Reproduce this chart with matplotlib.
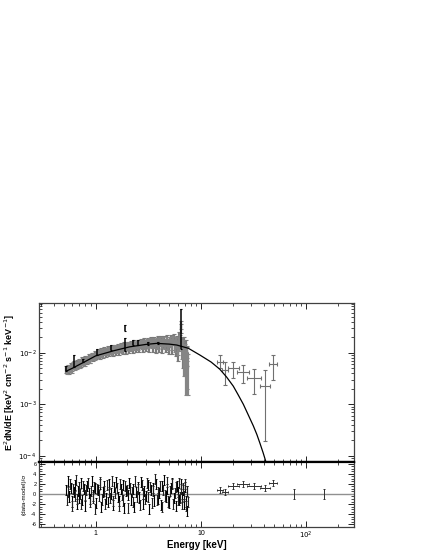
import matplotlib
matplotlib.use('Agg')
import matplotlib.pyplot as plt
from matplotlib.ticker import FixedLocator, FixedFormatter, LogLocator, NullFormatter, MultipleLocator

plt.rcParams['font.family'] = ['Liberation Sans', 'DejaVu Sans']

# soft X-ray spectrum (gray), keV and 1e-3 keV^2 cm^-2 s^-1 keV^-1
e_soft = [0.52, 0.54, 0.56, 0.58, 0.60, 0.62, 0.64, 0.66, 0.68, 0.70, 0.72, 0.74, 0.77, 0.80,
          0.83, 0.86, 0.89, 0.92, 0.95, 0.98, 1.01, 1.05, 1.09, 1.13, 1.17, 1.21, 1.25, 1.30,
          1.35, 1.40, 1.45, 1.50, 1.56, 1.62, 1.68, 1.74, 1.80, 1.87, 1.94, 2.01, 2.08, 2.16,
          2.24, 2.32, 2.41, 2.50, 2.59, 2.69, 2.79, 2.89, 3.00, 3.11, 3.23, 3.35, 3.47, 3.60,
          3.73, 3.87, 4.01, 4.16, 4.31, 4.47, 4.63, 4.80, 4.98, 5.16, 5.35, 5.55, 5.75, 5.96,
          6.10, 6.25, 6.40, 6.55, 6.70, 6.85, 7.00, 7.15, 7.30, 7.45]
f_soft = [4.8, 5.2, 4.5, 5.6, 5.3, 6.1, 5.6, 6.4, 5.9, 6.8, 6.3, 7.1, 6.6, 7.8,
          7.2, 8.3, 7.5, 8.9, 8.0, 9.6, 8.7, 10.1, 9.0, 10.6, 9.4, 11.2, 9.8, 11.6,
          10.2, 12.0, 10.5, 12.4, 10.8, 12.9, 11.1, 13.2, 11.5, 13.6, 11.8, 14.0, 12.1, 14.5,
          12.4, 15.0, 12.8, 15.3, 13.0, 15.8, 13.1, 16.2, 13.4, 16.6, 13.3, 17.0, 13.5, 17.4,
          13.2, 17.8, 13.6, 18.2, 13.0, 18.0, 13.8, 18.5, 12.8, 18.8, 13.2, 19.5, 12.5, 17.0,
          11.0, 21.0, 30.0, 16.0, 9.0, 15.5, 7.0, 13.0, 4.5, 9.5]
err_soft = [0.7, 0.7, 0.7, 0.8, 0.8, 0.8, 0.8, 0.9, 0.9, 0.9, 0.9, 1.0, 1.0, 1.0,
            1.1, 1.1, 1.1, 1.2, 1.2, 1.3, 1.3, 1.4, 1.4, 1.5, 1.5, 1.6, 1.6, 1.7,
            1.7, 1.8, 1.8, 1.9, 1.9, 2.0, 2.0, 2.1, 2.1, 2.2, 2.2, 2.3, 2.3, 2.4,
            2.4, 2.5, 2.5, 2.6, 2.6, 2.7, 2.7, 2.8, 2.8, 2.9, 2.9, 3.0, 3.0, 3.1,
            3.1, 3.2, 3.2, 3.3, 3.3, 3.4, 3.4, 3.5, 3.5, 3.6, 3.6, 3.8, 3.8, 4.0,
            4.0, 4.5, 6.0, 4.5, 4.0, 4.5, 3.5, 4.5, 2.5, 4.0]
res_soft = [0.8, 2.5, -0.5, 1.2, -1.5, 0.3, 1.8, -2.0, 0.6, -0.8, 2.2, -1.2, 0.9, -2.4,
            1.5, 0.2, -1.0, 2.6, -0.3, 1.1, -1.8, 0.7, 2.0, -2.6, 0.4, 1.6, -0.9, -1.6,
            1.9, 0.1, -2.2, 1.3, 2.4, -0.6, -1.4, 0.9, 1.7, -2.8, 0.5, -0.2, 2.1, -1.1,
            1.0, -2.5, 0.3, 1.4, -0.7, 2.3, -1.9, 0.6, -0.4, 1.8, -3.0, 0.8, 1.2, -1.3,
            2.0, -0.9, 0.2, -2.1, 1.5, 2.7, -0.5, 0.9, -1.7, 1.1, 2.2, -0.8, -2.3, 1.6,
            0.4, -1.2, 1.9, -0.6, 0.7, -2.0, 1.3, -1.5, -3.4, 0.5]

# interleaved second group of soft channels
e_soft2 = [0.53, 0.55, 0.57, 0.59, 0.61, 0.63, 0.65, 0.67, 0.69, 0.71, 0.73, 0.755, 0.785, 0.815,
           0.845, 0.875, 0.905, 0.935, 0.965, 0.995, 1.03, 1.07, 1.11, 1.15, 1.19, 1.23, 1.275, 1.325,
           1.375, 1.425, 1.475, 1.53, 1.59, 1.65, 1.71, 1.77, 1.835, 1.905, 1.975, 2.045, 2.12, 2.20,
           2.28, 2.365, 2.455, 2.545, 2.64, 2.74, 2.84, 2.945, 3.055, 3.17, 3.29, 3.41, 3.535, 3.665,
           3.80, 3.94, 4.085, 4.235, 4.39, 4.55, 4.715, 4.89, 5.07, 5.255, 5.45, 5.65, 5.855, 6.03,
           6.175, 6.325, 6.475, 6.625, 6.775, 6.925, 7.075, 7.225, 7.375, 7.52]
f_soft2 = [4.6, 4.9, 5.0, 4.8, 5.7, 5.4, 5.9, 5.7, 6.2, 6.0, 6.7, 6.9, 6.5, 7.4,
           7.7, 7.4, 8.2, 8.6, 8.9, 8.4, 9.3, 9.7, 10.2, 9.6, 10.4, 10.8, 10.5, 11.1,
           11.4, 11.0, 11.9, 12.2, 11.7, 12.3, 12.6, 12.1, 13.0, 12.8, 13.4, 13.7, 13.2, 13.9,
           14.3, 13.8, 14.6, 14.1, 14.9, 14.4, 15.2, 14.8, 15.6, 15.0, 16.0, 15.3, 16.2, 15.5,
           16.4, 15.1, 16.6, 15.4, 16.9, 15.0, 17.2, 14.6, 16.5, 15.1, 17.5, 14.2, 16.0, 13.0,
           15.0, 18.0, 35.0, 12.0, 14.0, 8.0, 11.0, 6.0, 10.5, 5.5]
res_soft2 = [-1.2, 0.4, 1.9, -2.3, 0.9, -0.4, 2.8, -1.0, 1.3, 0.0, -1.9, 1.6, -0.2, 0.8,
             2.1, -1.5, 0.5, -0.7, 1.4, -2.9, 1.0, -0.3, 2.3, -1.1, 0.6, -2.0, 1.8, 0.3,
             -0.8, 2.5, -1.4, 0.2, 1.1, -2.4, 2.0, -0.1, -1.3, 1.5, 0.7, -2.7, 1.2, 0.4,
             -1.6, 2.6, -0.5, 0.9, -2.2, 1.7, 0.1, -1.0, 2.2, -0.6, 1.3, -1.8, 0.6, 2.9,
             -1.2, 0.3, 1.6, -2.6, 0.8, -0.3, 2.4, -1.5, 0.5, 1.9, -2.0, 0.2, 1.4, -1.1,
             2.1, -0.7, 0.9, -1.9, 1.2, -0.4, 2.0, -2.4, 0.6, -1.6]

# second instrument (black)
e_blk = [0.526, 0.62, 0.76, 1.04, 1.41, 1.92, 1.92, 2.27, 2.53, 3.15, 3.92, 6.40]
f_blk = [5.0, 7.2, 7.2, 10.5, 12.8, 31.0, 15.0, 16.0, 16.0, 15.2, 15.5, 42.0]
err_blk = [0.6, 1.8, 0.5, 1.5, 1.5, 4.0, 4.0, 2.0, 2.0, 1.0, 1.0, 30.0]

# hard X-ray points
e_hard = [15.1, 16.9, 20.3, 25.3, 31.8, 40.6, 48.0]
e_hard_lo = [14.1, 16.0, 18.0, 22.0, 27.6, 36.4, 44.6]
e_hard_hi = [16.2, 17.9, 23.0, 28.8, 36.9, 45.0, 52.6]
f_hard = [6.7, 4.6, 5.0, 4.3, 3.3, 2.3, 6.0]
f_hard_lo = [5.0, 2.35, 3.2, 2.6, 1.6, 0.195, 2.95]
f_hard_hi = [9.0, 6.7, 6.7, 5.75, 4.8, 4.6, 9.0]
res_hard = [0.8, 0.3, 1.6, 2.0, 1.6, 1.1, 2.1]
e_ul = [77.0, 149.0]
res_ul = [0.0, 0.0]

# model curve
e_mod = [0.526, 0.6, 0.7, 0.8, 1.0, 1.5, 2.1, 3.0, 3.8, 5.0, 5.9, 7.6, 9.8, 12.5, 15.1, 17.5,
         20.3, 22.5, 25.3, 28.0, 31.5, 34.0, 36.4, 39.0, 41.5]
f_mod = [4.4, 5.0, 5.9, 6.8, 8.7, 11.0, 13.0, 14.5, 15.2, 14.7, 14.1, 12.2, 9.0, 6.6, 4.8, 3.4,
         2.25, 1.55, 1.0, 0.64, 0.38, 0.26, 0.175, 0.115, 0.076]

fig = plt.figure(figsize=(4.25, 5.5), dpi=100)
ax1 = fig.add_axes([0.092, 0.160, 0.741, 0.289])
ax2 = fig.add_axes([0.092, 0.042, 0.741, 0.118], sharex=ax1)

s = 1e-3
ax1.errorbar(e_soft, [v * s for v in f_soft], yerr=[v * s for v in err_soft], xerr=0.01,
             fmt='none', ecolor='#7a7a7a', elinewidth=1.6, capsize=1.2, capthick=0.8)
ax1.errorbar(e_soft2, [v * s for v in f_soft2], yerr=[v * s for v in err_soft], xerr=0.01,
             fmt='none', ecolor='#858585', elinewidth=1.6, capsize=1.2, capthick=0.8)
ax1.plot(e_mod, [v * s for v in f_mod], color='black', lw=0.9, zorder=4)
ax1.errorbar(e_blk, [v * s for v in f_blk], yerr=[v * s for v in err_blk],
             fmt='none', ecolor='black', elinewidth=1.1, capsize=1.0, capthick=0.8, zorder=5)
ax1.errorbar(e_hard, [v * s for v in f_hard],
             xerr=[[a - b for a, b in zip(e_hard, e_hard_lo)], [b - a for a, b in zip(e_hard, e_hard_hi)]],
             yerr=[[(a - b) * s for a, b in zip(f_hard, f_hard_lo)], [(b - a) * s for a, b in zip(f_hard, f_hard_hi)]],
             fmt='none', ecolor='#707070', elinewidth=0.8, capsize=1.2, capthick=0.8)

ax1.set_xscale('log')
ax1.set_yscale('log')
ax1.set_xlim(0.29, 285)
ax1.set_ylim(7.6e-5, 0.092)

ax2.axhline(0, color='#909090', lw=1.0)
ax2.errorbar(e_soft, res_soft, yerr=1.0, fmt='none', ecolor='black', elinewidth=0.8,
             capsize=1.0, capthick=0.7)
ax2.errorbar(e_soft2, res_soft2, yerr=1.0, fmt='none', ecolor='#202020', elinewidth=0.8,
             capsize=1.0, capthick=0.7)
ax2.errorbar(e_hard, res_hard,
             xerr=[[a - b for a, b in zip(e_hard, e_hard_lo)], [b - a for a, b in zip(e_hard, e_hard_hi)]],
             yerr=0.6, fmt='none', ecolor='#303030', elinewidth=0.7, capsize=1.0, capthick=0.7)
ax2.errorbar(e_ul, res_ul, yerr=1.0, fmt='none', ecolor='#303030', elinewidth=0.7,
             capsize=1.0, capthick=0.7)
ax2.set_ylim(-6.5, 6.3)

for ax in (ax1, ax2):
    ax.tick_params(which='both', direction='in', top=True, right=True, labelsize=5, pad=2)
    ax.tick_params(which='major', length=4, width=0.6)
    ax.tick_params(which='minor', length=2, width=0.5)
    for sp in ax.spines.values():
        sp.set_linewidth(0.9)
        sp.set_color('#404040')

ax1.spines['bottom'].set_linewidth(1.6)
ax1.spines['bottom'].set_color('black')
ax2.spines['top'].set_linewidth(1.6)
ax2.spines['top'].set_color('black')

ax1.yaxis.set_major_locator(FixedLocator([1e-4, 1e-3, 1e-2]))
ax1.yaxis.set_major_formatter(FixedFormatter(['$10^{-4}$', '$10^{-3}$', '$10^{-2}$']))
ax1.yaxis.set_minor_locator(LogLocator(base=10, subs=range(2, 10)))
ax1.yaxis.set_minor_formatter(NullFormatter())
ax1.xaxis.set_major_locator(FixedLocator([1, 10, 100]))
ax1.xaxis.set_minor_locator(LogLocator(base=10, subs=range(2, 10)))
ax1.xaxis.set_minor_formatter(NullFormatter())
plt.setp(ax1.get_xticklabels(), visible=False)
ax2.xaxis.set_major_formatter(FixedFormatter(['1', '10', '$10^2$']))

ax2.yaxis.set_major_locator(FixedLocator([-6, -4, -2, 0, 2, 4, 6]))
ax2.yaxis.set_major_formatter(FixedFormatter(['-6', '-4', '-2', '0', '2', '4', '6']))
ax2.yaxis.set_minor_locator(MultipleLocator(0.5))
ax2.tick_params(axis='y', labelsize=4)

ax1.set_ylabel('E$^2$dN/dE [keV$^2$ cm$^{-2}$ s$^{-1}$ keV$^{-1}$]', fontsize=6.5,
               fontweight='bold', labelpad=1)
ax2.set_ylabel('(data-model)/σ', fontsize=4.5, labelpad=3)
ax2.set_xlabel('Energy [keV]', fontsize=7, fontweight='bold', labelpad=-1)

fig.savefig('out.png', dpi=100)
